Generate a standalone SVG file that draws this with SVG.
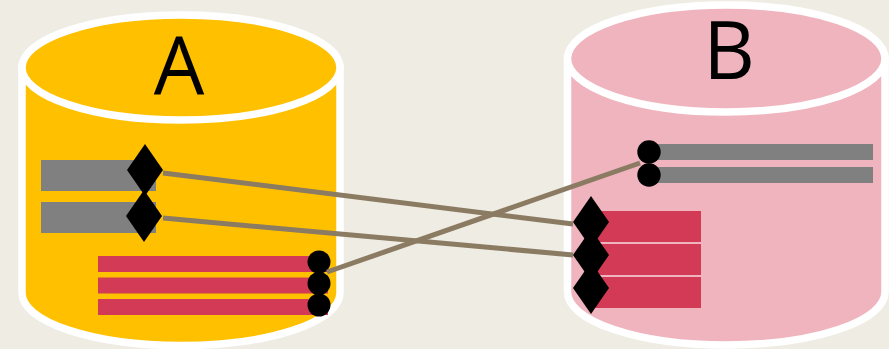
<svg xmlns="http://www.w3.org/2000/svg" width="889" height="349" viewBox="0 0 889 349">
<style>
.cyl{stroke:#FFFFFF;stroke-width:7.5}
.a{fill:#FFC000}
.b{fill:#EFB4BE}
.gray{fill:#808080}
.red{fill:#D33A55}
.mk{fill:#000000}
.lbl{font-family:"Open Sans","Liberation Sans",Arial,sans-serif;font-weight:380;font-size:80px;fill:#000000;text-anchor:middle}
.conn{stroke:#8B7B62;stroke-width:5;fill:none}
</style>
<rect x="0" y="0" width="889" height="349" fill="#EFECE4"/>
<g id="node-A">
<path class="cyl a" d="M22,67.5 L22,293 A159,52.5 0 0 0 340,293 L340,67.5 Z"/>
<ellipse class="cyl a" cx="181" cy="67.5" rx="159" ry="52.5"/>
<text class="lbl" x="179" y="94">A</text>
<rect class="gray" x="41" y="160" width="115" height="31"/>
<rect class="gray" x="41" y="202" width="115" height="31"/>
<rect class="red" x="98" y="256" width="230" height="16"/>
<rect class="red" x="98" y="277.5" width="230" height="16"/>
<rect class="red" x="98" y="299" width="230" height="16"/>
<polygon class="mk" points="145,144 163,170 145,196 127,170"/>
<polygon class="mk" points="144,190 162,216 144,242 126,216"/>
<circle class="mk" cx="319" cy="262" r="11.5"/>
<circle class="mk" cx="319" cy="283.5" r="11.5"/>
<circle class="mk" cx="319" cy="305" r="11.5"/>
</g>
<g id="node-B">
<path class="cyl b" d="M567.5,58.5 L567.5,292 A158.75,53 0 0 0 885,292 L885,58.5 Z"/>
<ellipse class="cyl b" cx="726.25" cy="58.5" rx="158.75" ry="53.5"/>
<text class="lbl" x="729" y="79">B</text>
<rect class="gray" x="650" y="144" width="223" height="16"/>
<rect class="gray" x="650" y="167" width="223" height="16"/>
<circle class="mk" cx="649" cy="152" r="11.7"/>
<circle class="mk" cx="649" cy="175" r="11.7"/>
<rect class="red" x="591" y="211" width="110" height="31"/>
<rect class="red" x="591" y="244" width="110" height="31"/>
<rect class="red" x="591" y="277" width="110" height="31"/>
<polygon class="mk" points="591,196 609,222 591,248 573,222"/>
<polygon class="mk" points="591,229 609,255 591,281 573,255"/>
<polygon class="mk" points="591,262 609,288 591,314 573,288"/>
</g>
<g id="connectors">
<line class="conn" x1="163" y1="173" x2="573" y2="224"/>
<line class="conn" x1="163" y1="218" x2="573" y2="255"/>
<line class="conn" x1="327" y1="272" x2="640" y2="163"/>
</g>
</svg>
